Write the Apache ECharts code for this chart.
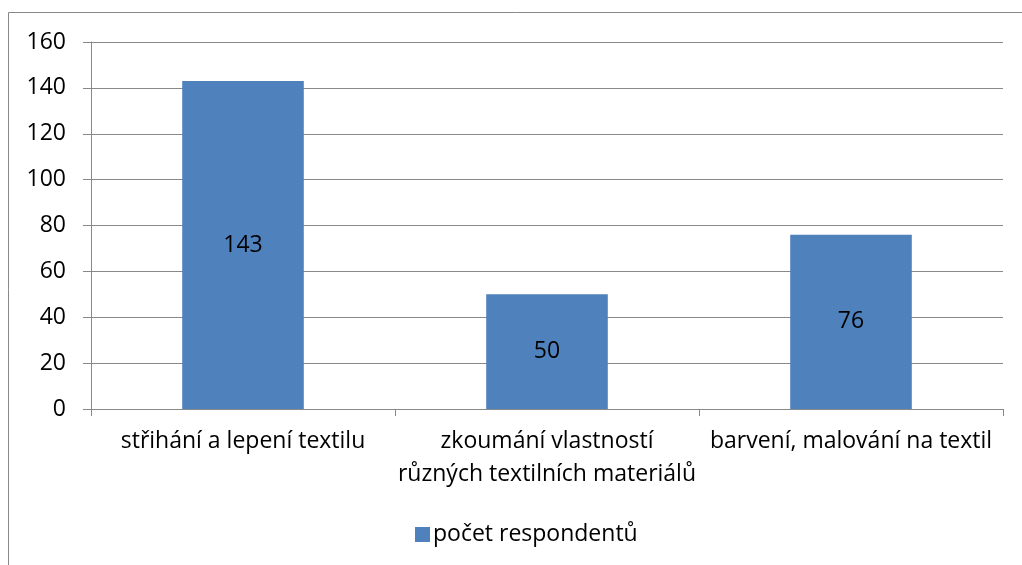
<!DOCTYPE html>
<html>
<head>
<meta charset="utf-8">
<script src="https://cdn.jsdelivr.net/npm/echarts@6/dist/echarts.min.js"></script>
<style>
  html, body { margin: 0; padding: 0; background: #fff; }
  #chart { width: 1022px; height: 565px; }
</style>
</head>
<body>
<div id="chart"></div>
<script>
const categories = [
  "střihání a lepení textilu",
  "zkoumání vlastností\nrůzných textilních materiálů",
  "barvení, malování na textil"
];
const respondents = [143, 50, 76];
const seriesName = "počet respondentů";
const yTicks = { min: 0, max: 160, interval: 20 };

const font = "'Open Sans', 'Noto Sans', sans-serif";
const fs = 23;
const chart = echarts.init(document.getElementById("chart"));
chart.setOption({
  animation: false,
  textStyle: { fontFamily: font },
  graphic: [
    {
      type: "rect",
      shape: { x: 8.5, y: 12.5, width: 1030, height: 570 },
      style: { fill: "none", stroke: "#888", lineWidth: 1 },
      silent: true
    }
  ],
  legend: {
    data: [seriesName],
    left: 410,
    top: 518,
    itemWidth: 15,
    itemHeight: 15,
    itemGap: 6,
    icon: "rect",
    textStyle: { fontSize: fs, color: "#000", fontFamily: font, padding: [0, 0, 0, -2] }
  },
  grid: { left: 91, right: 19, top: 42, bottom: 156 },
  xAxis: {
    type: "category",
    data: categories,
    axisLine: { lineStyle: { color: "#888" } },
    axisTick: { show: true, length: 7, lineStyle: { color: "#888" } },
    axisLabel: {
      color: "#000",
      fontSize: fs,
      lineHeight: 33,
      margin: 16,
      interval: 0,
      fontFamily: font
    }
  },
  yAxis: {
    type: "value",
    min: yTicks.min,
    max: yTicks.max,
    interval: yTicks.interval,
    axisLine: { show: true, lineStyle: { color: "#888" } },
    axisTick: { show: true, length: 8, lineStyle: { color: "#888" } },
    axisLabel: { color: "#000", fontSize: fs, margin: 25, fontFamily: font },
    splitLine: { lineStyle: { color: "#888", width: 1 } }
  },
  series: [
    {
      name: seriesName,
      type: "bar",
      data: respondents,
      barWidth: "40%",
      itemStyle: { color: "#4F81BD" },
      label: {
        show: true,
        position: "inside",
        color: "#000",
        fontSize: fs,
        fontFamily: font
      }
    }
  ]
});
</script>
</body>
</html>
